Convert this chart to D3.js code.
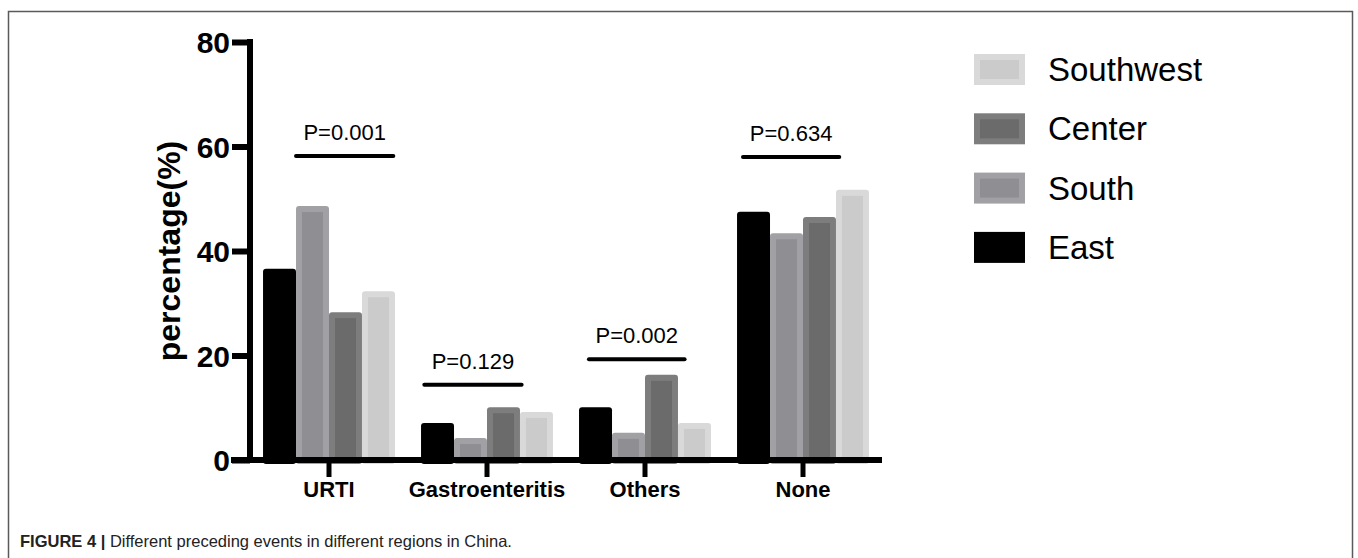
<!DOCTYPE html>
<html>
<head>
<meta charset="utf-8">
<script src="https://cdn.jsdelivr.net/npm/d3@7"></script>
<style>
  body { margin: 0; background: #fff; }
  svg { display: block; font-family: "Liberation Sans", Arial, Helvetica, sans-serif; }
</style>
</head>
<body>
<div id="chart"></div>
<script>
// data
let categories = ['URTI', 'Gastroenteritis', 'Others', 'None'];
let regions = ['East', 'South', 'Center', 'Southwest'];
let east = [36.6, 7.1, 10.1, 47.5];
let south = [48.6, 4.2, 5.2, 43.4];
let center = [28.3, 10.1, 16.3, 46.5];
let southwest = [32.3, 9.2, 7.1, 51.7];
let yTicks = [0, 20, 40, 60, 80];
let pLabels = ['P=0.001', 'P=0.129', 'P=0.002', 'P=0.634'];
let pLevels = [58.2, 14.4, 19.3, 58.0];
// bracket span, counted in bar widths from the group's left edge
let pSpan = [[1.0, 3.95], [0.1, 3.05], [0.3, 3.2], [0.18, 3.1]];

let seriesByRegion = {East: east, South: south, Center: center, Southwest: southwest};

let colors = {
    East: {outer: '#000000', inner: '#000000'},
    South: {outer: '#a1a1a5', inner: '#8f8f93'},
    Center: {outer: '#7d7d7d', inner: '#6b6b6b'},
    Southwest: {outer: '#d9d9d9', inner: '#cbcbcb'}
};

let width = 1358,
    height = 558;

let svg = d3.select('#chart').append('svg')
    .attr('width', width)
    .attr('height', height);

// frame
svg.append('path')
    .attr('d', `M8.5,${height} V11.5 H1352.5 V${height}`)
    .attr('fill', 'none')
    .attr('stroke', '#5a5a5a')
    .attr('stroke-width', 1.5);

let xScale = d3.scaleBand()
    .domain(categories)
    .range([250, 882])
    .paddingInner(0.165)
    .paddingOuter(0.0825);

let x1Scale = d3.scaleBand()
    .domain(regions)
    .range([0, xScale.bandwidth()]);

let yScale = d3.scaleLinear()
    .domain([0, 80])
    .range([460, 42]);

let barW = x1Scale.bandwidth();

// bars
let groups = svg.append('g')
    .selectAll('g')
    .data(categories)
    .join('g')
    .attr('transform', d => `translate(${xScale(d)},0)`);

groups.selectAll('g.bar')
    .data((c, i) => regions.map(r => ({region: r, value: seriesByRegion[r][i]})))
    .join('g')
    .attr('class', 'bar')
    .each(function (d) {
        let g = d3.select(this),
            x0 = x1Scale(d.region),
            y0 = yScale(d.value),
            h = yScale(0) - y0;
        g.append('rect')
            .attr('x', x0)
            .attr('y', y0)
            .attr('width', barW)
            .attr('height', h + 4)
            .attr('rx', 3)
            .attr('fill', colors[d.region].outer);
        if (d.region !== 'East' && h > 8) {
            g.append('rect')
                .attr('x', x0 + 6)
                .attr('y', y0 + 6)
                .attr('width', barW - 12)
                .attr('height', h - 6)
                .attr('fill', colors[d.region].inner);
        }
    });

// y axis
let yAxis = d3.axisLeft(yScale)
    .tickValues(yTicks)
    .tickSize(18)
    .tickPadding(2)
    .tickFormat(d3.format('d'));

let yAxis_g = svg.append('g')
    .attr('transform', 'translate(250,0)')
    .call(yAxis);

yAxis_g.select('.domain')
    .attr('d', `M0,${yScale(80) - 3} V${yScale(0) + 3}`)
    .attr('stroke', '#000')
    .attr('stroke-width', 6);

yAxis_g.selectAll('.tick line')
    .attr('stroke', '#000')
    .attr('stroke-width', 6);

yAxis_g.selectAll('.tick text')
    .attr('fill', '#000')
    .style('font-size', '30px')
    .style('font-weight', 'bold')
    .attr('dy', '0.36em');

// x axis
let xAxis = d3.axisBottom(xScale)
    .tickSize(17)
    .tickPadding(4);

let xAxis_g = svg.append('g')
    .attr('transform', `translate(0,${yScale(0)})`)
    .call(xAxis);

xAxis_g.select('.domain')
    .attr('d', `M231,0 H882`)
    .attr('stroke', '#000')
    .attr('stroke-width', 6);

xAxis_g.selectAll('.tick line')
    .attr('stroke', '#000')
    .attr('stroke-width', 5);

xAxis_g.selectAll('.tick text')
    .attr('fill', '#000')
    .style('font-size', '22px')
    .style('font-weight', 'bold');

// y axis title
svg.append('text')
    .attr('transform', `translate(180,${(yScale(0) + yScale(80)) / 2}) rotate(-90)`)
    .attr('text-anchor', 'middle')
    .style('font-size', '32px')
    .style('font-weight', 'bold')
    .text('percentage(%)');

// p-value brackets
let pAnn = categories.map((c, i) => ({cat: c, label: pLabels[i], level: pLevels[i], span: pSpan[i]}));

let p_g = svg.append('g')
    .selectAll('g')
    .data(pAnn)
    .join('g');

p_g.append('line')
    .attr('x1', d => xScale(d.cat) + d.span[0] * barW)
    .attr('x2', d => xScale(d.cat) + d.span[1] * barW)
    .attr('y1', d => yScale(d.level))
    .attr('y2', d => yScale(d.level))
    .attr('stroke', '#000')
    .attr('stroke-width', 4)
    .attr('stroke-linecap', 'round');

p_g.append('text')
    .attr('x', d => xScale(d.cat) + (d.span[0] + d.span[1]) / 2 * barW)
    .attr('y', d => yScale(d.level) - 16)
    .attr('text-anchor', 'middle')
    .style('font-size', '22px')
    .text(d => d.label);

// legend, top to bottom is reverse of the bar order
let legend_g = svg.append('g')
    .selectAll('g')
    .data(regions.slice().reverse())
    .join('g')
    .attr('transform', (d, i) => `translate(974,${54 + i * 59.3})`);

legend_g.append('rect')
    .attr('width', 51)
    .attr('height', 31)
    .attr('fill', d => colors[d].outer);

legend_g.append('rect')
    .attr('x', 6)
    .attr('y', 6)
    .attr('width', 39)
    .attr('height', 19)
    .attr('fill', d => colors[d].inner);

legend_g.append('text')
    .attr('x', 74)
    .attr('y', 27)
    .style('font-size', '33px')
    .text(d => d);

// caption
let caption = svg.append('text')
    .attr('x', 20)
    .attr('y', 547)
    .style('font-family', '"Liberation Sans Narrow", "Liberation Sans", Arial, sans-serif')
    .style('font-size', '16.5px')
    .attr('fill', '#222');

caption.append('tspan')
    .style('font-weight', 'bold')
    .text('FIGURE 4 | ');

caption.append('tspan')
    .text('Different preceding events in different regions in China.');
</script>
</body>
</html>
